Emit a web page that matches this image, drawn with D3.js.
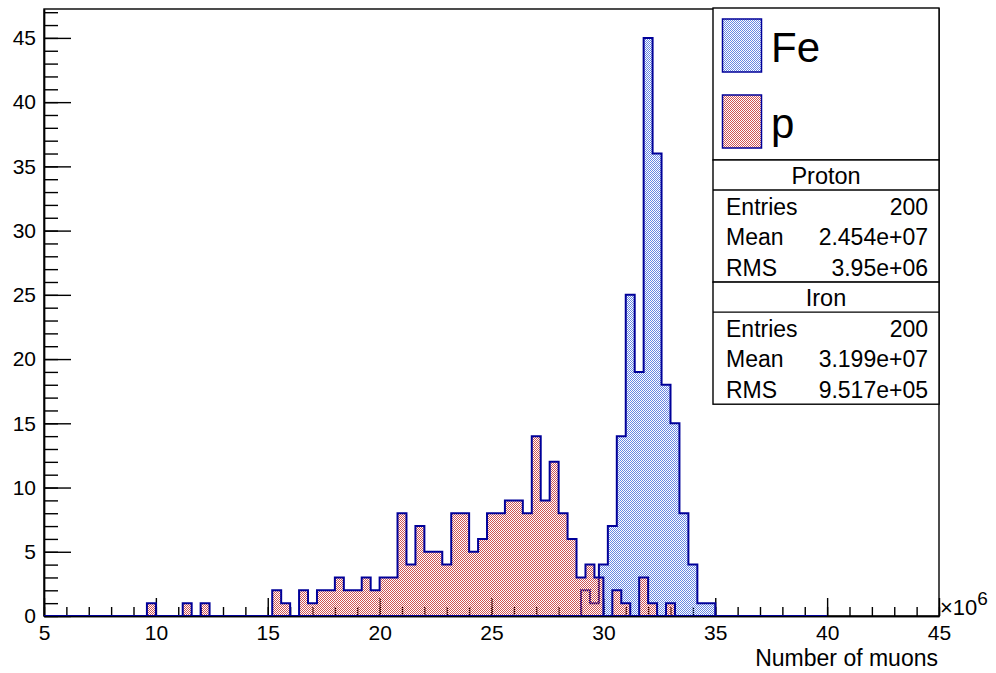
<!DOCTYPE html>
<html>
<head>
<meta charset="utf-8">
<script src="https://cdn.jsdelivr.net/npm/d3@7"></script>
<style>
  body { margin: 0; background: #fff; }
  svg { display: block; }
  text { font-family: "Liberation Sans", Arial, Helvetica, sans-serif; fill: #000; }
</style>
</head>
<body>
<svg id="chart" width="996" height="673"></svg>
<script>
// ---- histogram contents (number of muons, in units of 1e6) ----
const binWidth = 0.4;

// Proton showers: counts per bin, first bin starts at protonStart
const protonStart = 9.6;
const protonCounts = [
  1, 0, 0, 0, 1, 0, 1, 0, 0, 0, 0, 0, 0, 0,      // 9.6 .. 14.8
  2, 1, 0, 2, 1, 2, 2, 3, 2, 2, 3, 2, 3, 3,      // 15.2 .. 20.4
  8, 4, 7, 5, 5, 4, 8, 8, 5, 6, 8, 8, 9, 9,      // 20.8 .. 26.0
  8, 14, 9, 12, 8, 6, 3, 4, 3, 0, 2, 1, 0, 3,    // 26.4 .. 31.6
  1, 0, 1                                        // 32.0 .. 32.8
];

// Iron showers
const ironStart = 29.0;
const ironCounts = [2, 1, 4, 7, 14, 25, 19, 45, 36, 18, 15, 8, 4, 1, 1];

// Range over which the histograms are defined (drawn along zero)
const histRange = [5, 40];

// Axis setup
const xDomain = [5, 45];
const yDomain = [0, 47.25];
const xMajorTicks = [5, 10, 15, 20, 25, 30, 35, 40, 45];
const xMinorTicks = d3.range(5, 46, 1);
const yMajorTicks = [0, 5, 10, 15, 20, 25, 30, 35, 40, 45];
const yMinorTicks = d3.range(0, 48, 1);
const xTitle = "Number of muons";
const xExponent = "6";

// Legend and statistics boxes
const legendLabels = ["Fe", "p"];
const statsTitles = ["Proton", "Iron"];
const statsProton = [["Entries", "200"], ["Mean", "2.454e+07"], ["RMS", "3.95e+06"]];
const statsIron = [["Entries", "200"], ["Mean", "3.199e+07"], ["RMS", "9.517e+05"]];

// ---- layout ----
const frame = { left: 44, right: 939, top: 9, bottom: 616 };
const navy = "#000099";
const ironDot = "rgb(104,136,226)";
const protonDot = "rgb(206,84,84)";

const svg = d3.select("#chart");
const x = d3.scaleLinear().domain(xDomain).range([frame.left, frame.right]);
const y = d3.scaleLinear().domain(yDomain).range([frame.bottom, frame.top]);

// checkerboard hatch fills
const defs = svg.append("defs");
function checker(id, color) {
  const p = defs.append("pattern")
    .attr("id", id).attr("patternUnits", "userSpaceOnUse")
    .attr("width", 2).attr("height", 2);
  p.append("rect").attr("x", 0).attr("y", 0).attr("width", 1).attr("height", 1)
    .attr("fill", color).attr("shape-rendering", "crispEdges");
  p.append("rect").attr("x", 1).attr("y", 1).attr("width", 1).attr("height", 1)
    .attr("fill", color).attr("shape-rendering", "crispEdges");
}
checker("hatchFe", ironDot);
checker("hatchP", protonDot);

defs.append("clipPath").attr("id", "plotClip")
  .append("rect")
  .attr("x", frame.left).attr("y", frame.top)
  .attr("width", frame.right - frame.left).attr("height", frame.bottom - frame.top);

// ---- frame ----
svg.append("rect")
  .attr("x", frame.left).attr("y", frame.top)
  .attr("width", frame.right - frame.left).attr("height", frame.bottom - frame.top)
  .attr("fill", "none").attr("stroke", "#000").attr("stroke-width", 1.4);

// ---- axes (ticks point into the plot) ----
const axisStroke = 1.4;
const gx = svg.append("g").attr("transform", `translate(0,${frame.bottom})`);
gx.append("g")
  .call(d3.axisBottom(x).tickValues(xMinorTicks).tickSize(-9).tickSizeOuter(0).tickFormat(""));
gx.append("g")
  .call(d3.axisBottom(x).tickValues(xMajorTicks).tickSize(-18).tickSizeOuter(0)
    .tickPadding(9).tickFormat(d3.format("d")));
gx.selectAll("path.domain").attr("stroke", "#000").attr("stroke-width", axisStroke);
gx.selectAll(".tick line").attr("stroke", "#000").attr("stroke-width", axisStroke);
gx.selectAll(".tick text").attr("font-size", 21).attr("font-family", null);

const gy = svg.append("g").attr("transform", `translate(${frame.left},0)`);
gy.append("g")
  .call(d3.axisLeft(y).tickValues(yMinorTicks).tickSize(-14).tickSizeOuter(0).tickFormat(""));
gy.append("g")
  .call(d3.axisLeft(y).tickValues(yMajorTicks).tickSize(-27).tickSizeOuter(0)
    .tickPadding(8).tickFormat(d3.format("d")));
gy.selectAll("path.domain").attr("stroke", "#000").attr("stroke-width", axisStroke);
gy.selectAll(".tick line").attr("stroke", "#000").attr("stroke-width", axisStroke);
gy.selectAll(".tick text").attr("font-size", 21).attr("font-family", null);

// axis title and exponent
svg.append("text")
  .attr("x", frame.right - 1).attr("y", 666)
  .attr("text-anchor", "end").attr("font-size", 23)
  .text(xTitle);
const expo = svg.append("text")
  .attr("x", frame.right + 1).attr("y", 615).attr("font-size", 22);
expo.append("tspan").text("\u00d710");
expo.append("tspan").attr("dy", -10).attr("font-size", 19).text(xExponent);

// ---- histograms ----
function stepPoints(start, counts) {
  const pts = [[start, 0]];
  counts.forEach((c, i) => {
    pts.push([start + i * binWidth, c], [start + (i + 1) * binWidth, c]);
  });
  pts.push([start + counts.length * binWidth, 0]);
  return pts;
}
const stepLine = d3.line().x(d => x(d[0])).y(d => y(d[1]));

const plot = svg.append("g").attr("clip-path", "url(#plotClip)");

function drawHist(start, counts, fillId) {
  const pts = stepPoints(start, counts);
  plot.append("path")
    .attr("d", stepLine(pts) + "Z")
    .attr("fill", `url(#${fillId})`)
    .attr("stroke", "none");
  plot.append("path")
    .attr("d", stepLine(pts))
    .attr("fill", "none")
    .attr("stroke", navy).attr("stroke-width", 2)
    .attr("stroke-linejoin", "miter");
}
drawHist(ironStart, ironCounts, "hatchFe");
drawHist(protonStart, protonCounts, "hatchP");

// zero level across the histogram range
plot.append("line")
  .attr("x1", x(histRange[0])).attr("x2", x(histRange[1]))
  .attr("y1", y(0)).attr("y2", y(0))
  .attr("stroke", navy).attr("stroke-width", 2.2);

// ---- legend ----
const box = { left: 713, right: 939 };
const legend = svg.append("g");
legend.append("rect")
  .attr("x", box.left).attr("y", 8)
  .attr("width", box.right - box.left).attr("height", 152)
  .attr("fill", "#fff").attr("stroke", "#000").attr("stroke-width", 1.4);
const legendFills = ["hatchFe", "hatchP"];
legendLabels.forEach((lab, i) => {
  const top = 19 + i * 76;
  legend.append("rect")
    .attr("x", 722.5).attr("y", top)
    .attr("width", 39).attr("height", 53)
    .attr("fill", `url(#${legendFills[i]})`)
    .attr("stroke", navy).attr("stroke-width", 1.5);
  legend.append("text")
    .attr("x", 771).attr("y", top + 43)
    .attr("font-size", 42)
    .text(lab);
});

// ---- statistics boxes ----
function statsBox(top, title, rows) {
  const g = svg.append("g");
  const headerH = 30, rowH = 30.7;
  const h = headerH + rows.length * rowH;
  g.append("rect")
    .attr("x", box.left).attr("y", top)
    .attr("width", box.right - box.left).attr("height", h)
    .attr("fill", "#fff").attr("stroke", "#000").attr("stroke-width", 1.4);
  g.append("line")
    .attr("x1", box.left).attr("x2", box.right)
    .attr("y1", top + headerH).attr("y2", top + headerH)
    .attr("stroke", "#000").attr("stroke-width", 1.4);
  g.append("text")
    .attr("x", (box.left + box.right) / 2).attr("y", top + 24)
    .attr("text-anchor", "middle").attr("font-size", 23.5)
    .text(title);
  rows.forEach((r, i) => {
    const base = top + headerH + 24.5 + i * rowH;
    g.append("text").attr("x", 726).attr("y", base)
      .attr("font-size", 23).text(r[0]);
    g.append("text").attr("x", 928).attr("y", base)
      .attr("text-anchor", "end").attr("font-size", 23).text(r[1]);
  });
  return top + h;
}
const nextTop = statsBox(160, statsTitles[0], statsProton);
statsBox(nextTop, statsTitles[1], statsIron);
</script>
</body>
</html>
